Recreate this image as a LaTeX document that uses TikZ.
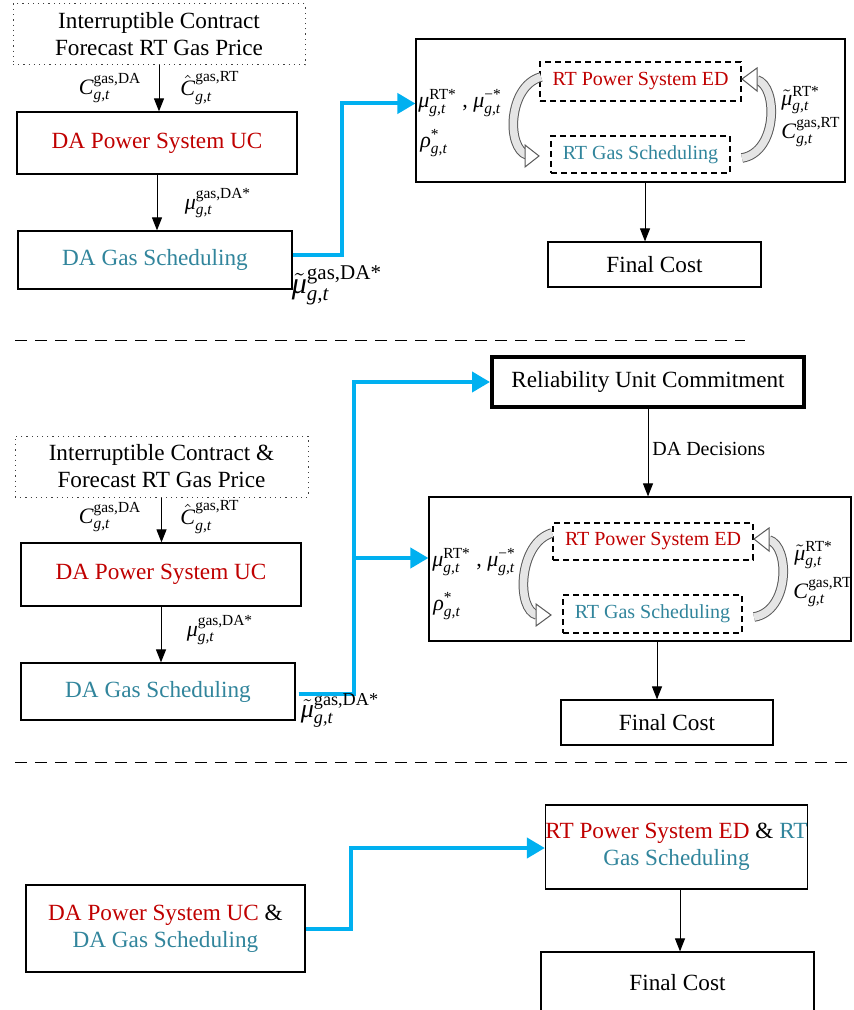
\documentclass[tikz,border=0pt]{standalone}
\usepackage{amsmath}
\usepackage{fontspec}
\setmainfont{Liberation Serif}
\usetikzlibrary{arrows.meta,calc}
\definecolor{dared}{HTML}{C00000}
\definecolor{dateal}{HTML}{31859C}
\definecolor{arblue}{HTML}{00B0F0}
\newcommand{\mv}[4][]{\ensuremath{#1{\text{\textit{#2}}}^{\text{#3}}_{\text{\textit{#4}}}}}
\begin{document}
\begin{tikzpicture}[x=0.5pt,y=-0.5pt,
  every node/.style={font=\fontsize{11.6}{13.5}\selectfont},
  box/.style={draw, line width=0.6pt, inner sep=0pt, align=center},
  dotbox/.style={box, dotted, draw=black!75, line width=0.5pt},
  dbox/.style={draw, dash pattern=on 3pt off 2pt, line width=0.6pt, inner sep=0pt, align=center, font=\fontsize{10}{12}\selectfont},
  arr/.style={-{Triangle[length=6.5pt,width=5pt]}, line width=0.5pt},
  barr/.style={draw=arblue, line width=2pt, -{Triangle[length=9pt,width=10pt]}, line join=miter},
  lbl/.style={inner sep=0pt, font=\fontsize{11}{13}\selectfont},
  sep/.style={dash pattern=on 6pt off 4pt, line width=0.5pt},
  cband/.style={line width=4.8pt, draw=black!65},
  cfill/.style={line width=3.8pt, draw=gray!20},
  chead/.style={fill=white, draw=black!65, line width=0.5pt, line join=miter}]
\useasboundingbox (0,0) rectangle (853,1010);
\fill[white] (0,0) rectangle (853,1010);

% ---------------- Panel 1 ----------------
\node[dotbox, minimum width=146pt, minimum height=30.5pt] (ic1) at (159,34.5) {Interruptible Contract\\Forecast RT Gas Price};
\node[box, minimum width=140pt, minimum height=31pt, text=dared] (uc1) at (157,143) {DA Power System UC};
\node[box, minimum width=137pt, minimum height=29pt, text=dateal] (gs1) at (155,260) {DA Gas Scheduling};
\node[box, minimum width=214.5pt, minimum height=71.5pt] (big1) at (630.5,110.5) {};
\node[dbox, minimum width=100.5pt, minimum height=19.5pt, text=dared] (ed1) at (640.5,81.5) {RT Power System ED};
\node[dbox, minimum width=89.5pt, minimum height=18.5pt, text=dateal] (gsr1) at (640.5,154.5) {RT Gas Scheduling};
\node[box, minimum width=106.5pt, minimum height=22.5pt] (fc1) at (654.5,264.5) {Final Cost};

\draw[arr] (ic1.south) -- (ic1.south |- uc1.north);
\draw[arr] (uc1.south) -- (uc1.south |- gs1.north);
\coordinate (a1) at (645,0);
\draw[arr] (big1.south -| a1) -- (fc1.north -| a1);
\draw[barr] ($(gs1.east)+(0,-5)$) -- ++(49,0) |- ($(big1.west)+(0,-7)$);

\node[lbl] (l1a) at (110,88) {\mv{C}{gas,DA}{g,t}};
\node[lbl] (l1b) at (210,88) {\mv[\hat]{C}{gas,RT}{g,t}};
\node[lbl] (l1c) at (218,203) {\mv{μ}{gas,DA*}{g,t}};
\node[lbl, font=\fontsize{15}{18}\selectfont] (l1d) at (337,285) {\mv[\tilde]{μ}{gas,DA*}{g,t}};
\node[lbl, anchor=west] (l1e) at (418,103) {\mv{μ}{RT*}{g,t} , \mv{μ}{−*}{g,t}};
\node[lbl, anchor=west] (l1f) at (420,143) {\mv{ρ}{*}{g,t}};
\node[lbl, anchor=west] (l1g) at (781,100) {\mv[\tilde]{μ}{RT*}{g,t}};
\node[lbl, anchor=west] (l1h) at (781,132) {\mv{C}{gas,RT}{g,t}};

\draw[cband] (541,77) .. controls (508,86) and (506,148) .. (527,155);
\draw[cfill] (541,77) .. controls (508,86) and (506,148) .. (527,155);
\draw[chead] (539,156) -- (525,145) -- (525,167) -- cycle;
\draw[cband] (742,158) .. controls (778,152) and (778,86) .. (757,80);
\draw[cfill] (742,158) .. controls (778,152) and (778,86) .. (757,80);
\draw[chead] (742,79) -- (757,68) -- (757,91) -- cycle;

\draw[sep] (15,340) -- (745,340);

% ---------------- Panel 2 ----------------
\node[dotbox, minimum width=146.5pt, minimum height=30.5pt] (ic2) at (161.5,466.5) {Interruptible Contract \&\\Forecast RT Gas Price};
\node[box, minimum width=140pt, minimum height=31.5pt, text=dared] (uc2) at (161,574.5) {DA Power System UC};
\node[box, minimum width=137pt, minimum height=28.5pt, text=dateal] (gs2) at (158,691.5) {DA Gas Scheduling};
\node[box, minimum width=156pt, minimum height=25pt, line width=2pt] (rel) at (648,382) {Reliability Unit Commitment};
\node[box, minimum width=211pt, minimum height=72pt] (big2) at (640,569) {};
\node[dbox, minimum width=100pt, minimum height=18.5pt, text=dared] (ed2) at (653,541.5) {RT Power System ED};
\node[dbox, minimum width=89.5pt, minimum height=19pt, text=dateal] (gsr2) at (652.5,614) {RT Gas Scheduling};
\node[box, minimum width=106pt, minimum height=22.5pt] (fc2) at (667,722.5) {Final Cost};

\draw[arr] (ic2.south) -- (ic2.south |- uc2.north);
\draw[arr] (uc2.south) -- (uc2.south |- gs2.north);
\draw[arr] (rel.south) -- (rel.south |- big2.north);
\coordinate (a2) at (657,0);
\draw[arr] (big2.south -| a2) -- (fc2.north -| a2);
\draw[barr] ($(gs2.east)+(3,2)$) -- ++(55,0) |- (rel.west);
\draw[barr] ($(gs2.east)+(3,2)$) -- ++(55,0) |- ($(big2.west)+(0,-11)$);

\node[anchor=west, inner sep=0pt, font=\fontsize{10}{12}\selectfont] (dad) at (652,449) {DA Decisions};
\node[lbl] (l2a) at (110,517) {\mv{C}{gas,DA}{g,t}};
\node[lbl] (l2b) at (210,517) {\mv[\hat]{C}{gas,RT}{g,t}};
\node[lbl] (l2c) at (220,630) {\mv{μ}{gas,DA*}{g,t}};
\node[lbl, font=\fontsize{13}{16}\selectfont] (l2d) at (340,710) {\mv[\tilde]{μ}{gas,DA*}{g,t}};
\node[lbl, anchor=west] (l2e) at (432,562) {\mv{μ}{RT*}{g,t} , \mv{μ}{−*}{g,t}};
\node[lbl, anchor=west] (l2f) at (433,606) {\mv{ρ}{*}{g,t}};
\node[lbl, anchor=west] (l2g) at (794,555) {\mv[\tilde]{μ}{RT*}{g,t}};
\node[lbl, anchor=west] (l2h) at (793,592) {\mv{C}{gas,RT}{g,t}};

\draw[cband] (552,533) .. controls (518,543) and (516,610) .. (537,615);
\draw[cfill] (552,533) .. controls (518,543) and (516,610) .. (537,615);
\draw[chead] (551,615) -- (536,604) -- (536,626) -- cycle;
\draw[cband] (754,617) .. controls (790,611) and (790,546) .. (769,540);
\draw[cfill] (754,617) .. controls (790,611) and (790,546) .. (769,540);
\draw[chead] (754,539) -- (769,528) -- (769,551) -- cycle;

\draw[sep] (15,762) -- (853,762);

% ---------------- Panel 3 ----------------
\node[box, minimum width=139.5pt, minimum height=43.5pt] (p3a) at (165.5,928.5) {{\color{dared}DA Power System UC} \&\\{\color{dateal}DA Gas Scheduling}};
\node[box, minimum width=129.5pt, minimum height=42pt] (p3b) at (676.5,847) {{\color{dared}RT Power System ED} \& {\color{dateal}RT}\\{\color{dateal}Gas Scheduling}};
\node[box, minimum width=136.5pt, minimum height=31pt] (fc3) at (677.5,983) {Final Cost};
\coordinate (a3) at (680,0);
\draw[arr] (p3b.south -| a3) -- (fc3.north -| a3);
\draw[barr] (p3a.east) -- ++(45,0) |- ($(p3b.west)+(0,1)$);
\end{tikzpicture}
\end{document}
